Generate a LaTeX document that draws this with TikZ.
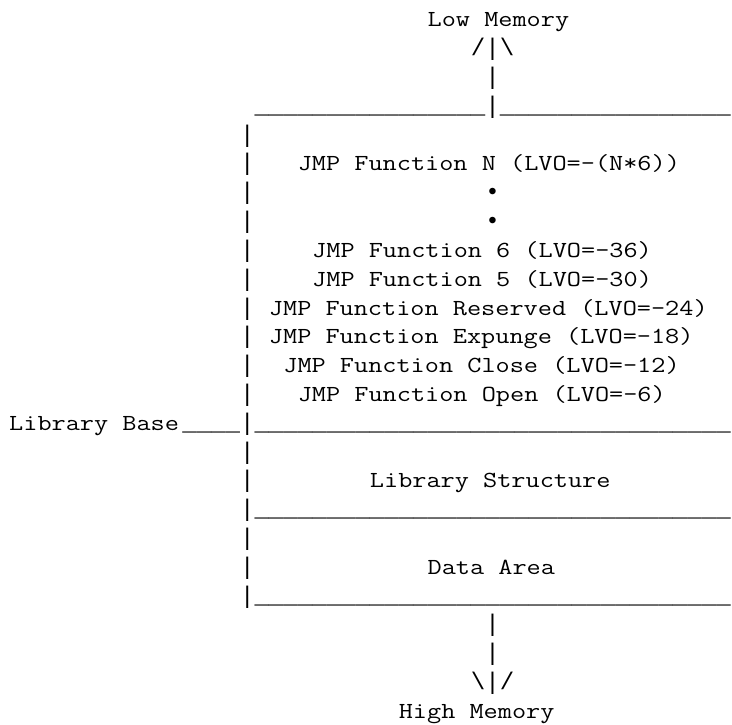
\documentclass[tikz,border=0pt]{standalone}
\usepackage{fontspec}
\newfontfamily\asciifont{Latin Modern Mono}[FakeStretch=1.195]
\newfontfamily\rulefont{Liberation Mono}
\ExplSyntaxOn
\cs_new:Npn \myrep #1#2 { \prg_replicate:nn {#1} {#2} }
\ExplSyntaxOff
\newcommand\rl[1]{{\rulefont\fontsize{24.05}{28.8}\selectfont #1}}
\tikzset{
  ascii/.style={anchor=base west, inner sep=0pt, outer sep=0pt, text=black,
    font=\asciifont\fontsize{23}{27.6}\selectfont}
}
\begin{document}
\begin{tikzpicture}
\useasboundingbox (0,0) rectangle (732pt,-725pt);
\begin{scope}[x=14.43pt, y=-28.8pt, shift={(9.2pt,-27pt)}]
  % top
  \node[ascii] (lowmem) at (29,0) {Low Memory};
  \node[ascii] (uparrow) at (32,1) {\rl{/|\textbackslash}};
  \node[ascii] (upstem) at (33,2) {\rl{|}};
  \node[ascii] (topline) at (17,3) {\rl{\myrep{16}{\_}|\myrep{16}{\_}}};
  % left bar
  \foreach \r in {4,...,13,15,16,18,19} {
    \node[ascii] (bar\r) at (16,\r) {\rl{|}};
  }
  % jump table
  \node[ascii] (fnN) at (20,5) {JMP Function N (LVO=-(N*6))};
  \node[ascii] (dot1) at (33,6) {\rl{•}};
  \node[ascii] (dot2) at (33,7) {\rl{•}};
  \node[ascii] (fn6) at (21,8) {JMP Function 6 (LVO=-36)};
  \node[ascii] (fn5) at (21,9) {JMP Function 5 (LVO=-30)};
  \node[ascii] (fnres) at (18,10) {JMP Function Reserved (LVO=-24)};
  \node[ascii] (fnexp) at (18,11) {JMP Function Expunge (LVO=-18)};
  \node[ascii] (fnclose) at (19,12) {JMP Function Close (LVO=-12)};
  \node[ascii] (fnopen) at (20,13) {JMP Function Open (LVO=-6)};
  % library base
  \node[ascii] (libbase) at (0,14) {Library Base};
  \node[ascii] (baseline) at (12,14) {\rl{\myrep{4}{\_}|\myrep{33}{\_}}};
  \node[ascii] (libstruct) at (25,16) {Library Structure};
  \node[ascii] (line17) at (16,17) {\rl{|\myrep{33}{\_}}};
  \node[ascii] (data) at (29,19) {Data Area};
  \node[ascii] (line20) at (16,20) {\rl{|\myrep{33}{\_}}};
  % bottom
  \node[ascii] (downstem1) at (33,21) {\rl{|}};
  \node[ascii] (downstem2) at (33,22) {\rl{|}};
  \node[ascii] (downarrow) at (32,23) {\rl{\textbackslash|/}};
  \node[ascii] (highmem) at (27,24) {High Memory};
\end{scope}
\end{tikzpicture}
\end{document}
